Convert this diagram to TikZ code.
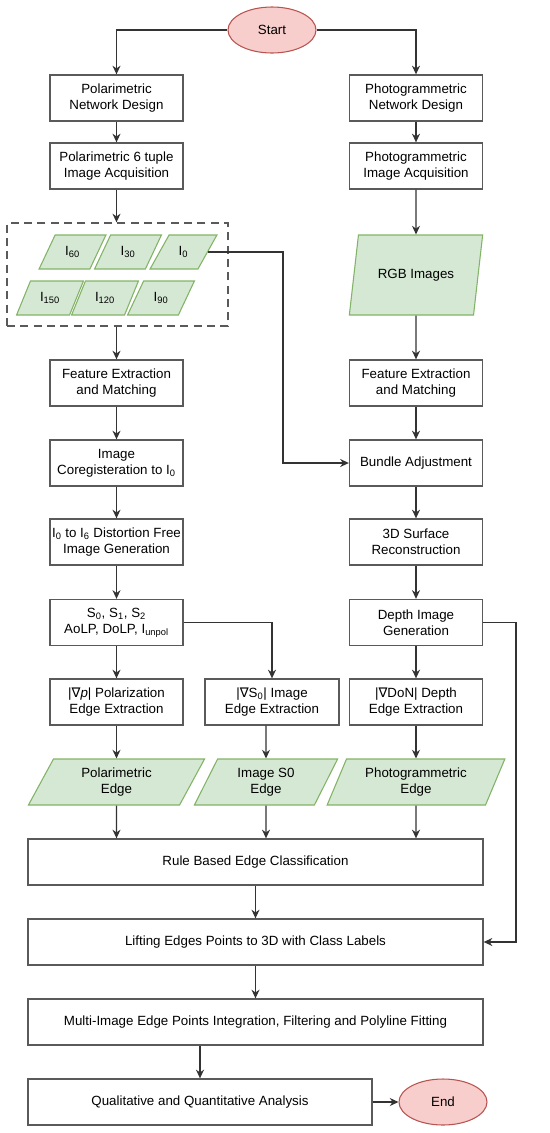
\documentclass[tikz,border=0pt]{standalone}
\usepackage{fontspec}
\setmainfont{Liberation Sans}
\newfontfamily\symfont{DejaVu Sans}
\usetikzlibrary{arrows.meta,positioning,shapes.geometric}
\definecolor{BoxLine}{HTML}{5A5A5A}
\definecolor{DataFill}{HTML}{D5E8D4}
\definecolor{DataLine}{HTML}{82B366}
\definecolor{TermFill}{HTML}{F8CECC}
\definecolor{TermLine}{HTML}{B85450}
\tikzset{>={Stealth[length=6.5pt,width=6pt]},every node/.style={font=\fontsize{10}{12}\selectfont},
 block/.style={draw=BoxLine,line width=1pt,fill=white,minimum width=99.75pt,
 minimum height=34.5pt,inner sep=1pt,align=center},
 data/.style={trapezium,trapezium stretches=true,trapezium left angle=65,
 trapezium right angle=115,draw=DataLine,fill=DataFill,line width=0.8pt,
 minimum height=34.5pt,inner sep=1pt,align=center},
 angle/.style={data,minimum width=50.25pt,minimum height=25.5pt,
 trapezium left angle=60,trapezium right angle=120},
 term/.style={ellipse,draw=TermLine,fill=TermFill,line width=0.8pt,
 minimum width=66pt,minimum height=34.5pt},
 flow/.style={draw=black!80,line width=0.9pt,->}}
\newcommand{\nab}{{\symfont\char"2207}}
\begin{document}
\begin{tikzpicture}[x=0.75pt,y=-0.75pt]
\useasboundingbox (0,0) rectangle (550,1133);
% terminals
\node[term] (start) at (272,30){Start};
\node[term] (end) at (443,1102){End};
% left column
\node[block] (pnd) at (116.5,98){Polarimetric\\Network Design};
\node[block] (pia) at (116.5,166){Polarimetric 6 tuple\\Image Acquisition};
\node[draw=BoxLine,dash pattern=on 6pt off 4pt,line width=1pt,minimum width=165.75pt,minimum height=77.25pt] (grp) at (117.5,274.5){};
\node[angle] (i60) at (72.5,252){I\textsubscript{60}};
\node[angle] (i30) at (128,252){I\textsubscript{30}};
\node[angle] (i0) at (183.5,252){I\textsubscript{0}};
\node[angle] (i150) at (50,298){I\textsubscript{150}};
\node[angle] (i120) at (105,298){I\textsubscript{120}};
\node[angle] (i90) at (161,298){I\textsubscript{90}};
\node[block] (fem) at (116.5,383){Feature Extraction\\and Matching};
\node[block] (icr) at (116.5,463){Image\\Coregisteration to I\textsubscript{0}};
\node[block] (dfg) at (116.5,542){I\textsubscript{0} to I\textsubscript{6} Distortion Free\\Image Generation};
\node[block] (stk) at (116.5,622.5){S\textsubscript{0}, S\textsubscript{1}, S\textsubscript{2}\\AoLP, DoLP, I\textsubscript{unpol}};
\node[block] (pee) at (116.5,702){|\nab\textit{p}| Polarization\\Edge Extraction};
\node[block,minimum width=100.5pt] (iee) at (272,702){|\nab S\textsubscript{0}| Image\\Edge Extraction};
% right column
\node[block] (pnd2) at (416,98){Photogrammetric\\Network Design};
\node[block] (pia2) at (416,166){Photogrammetric\\Image Acquisition};
\node[data,minimum width=100.5pt,minimum height=60pt,trapezium left angle=67,trapezium right angle=113] (rgb) at (416,275){RGB Images};
\node[block] (fem2) at (416,383){Feature Extraction\\and Matching};
\node[block] (bun) at (416,463){Bundle Adjustment};
\node[block] (sur) at (416,542){3D Surface\\Reconstruction};
\node[block] (dig) at (416,622.5){Depth Image\\Generation};
\node[block] (dee) at (416,702){|\nab DoN| Depth\\Edge Extraction};
% edges
\node[data,minimum width=132.75pt] (pe) at (116.5,782){Polarimetric\\Edge};
\node[data,minimum width=108pt] (se) at (266,782){Image S0\\Edge};
\node[data,minimum width=133.5pt] (phe) at (416,782){Photogrammetric\\Edge};
% bottom
\node[block,minimum width=341.25pt] (rule) at (255.5,862){Rule Based Edge Classification};
\node[block,minimum width=341.25pt] (lift) at (255.5,942){Lifting Edges Points to 3D with Class Labels};
\node[block,minimum width=341.25pt] (multi) at (255.5,1022){Multi-Image Edge Points Integration, Filtering and Polyline Fitting};
\node[block,minimum width=258pt] (qual) at (200,1102){Qualitative and Quantitative Analysis};
\coordinate (jog) at (283,0); \coordinate (rail) at (516,0);
\path[flow] (start) -| (pnd); \path[flow] (start) -| (pnd2);
\path[flow] (pnd) -- (pia); \path[flow] (pia.south) -- (pia.south |- grp.north);
\path[flow] (grp.south -| fem) -- (fem); \path[flow] (fem) -- (icr);
\path[flow] (icr) -- (dfg); \path[flow] (dfg) -- (stk);
\path[flow] (stk) -- (pee); \path[flow] (stk) -| (iee);
\path[flow] (i0.east) -- (i0.east -| jog) |- (bun);
\path[flow] (pnd2) -- (pia2); \path[flow] (pia2) -- (rgb); \path[flow] (rgb) -- (fem2);
\path[flow] (fem2) -- (bun); \path[flow] (bun) -- (sur); \path[flow] (sur) -- (dig);
\path[flow] (dig) -- (dee); \path[flow] (dig.east) -- (dig.east -| rail) |- (lift);
\path[flow] (pee) -- (pe); \path[flow] (iee.south -| se) -- (se); \path[flow] (dee) -- (phe);
\path[flow] (pe) -- (pe |- rule.north); \path[flow] (se) -- (se |- rule.north);
\path[flow] (phe) -- (phe |- rule.north);
\path[flow] (rule.south -| lift) -- (lift); \path[flow] (lift) -- (multi);
\path[flow] (multi.south -| qual) -- (qual); \path[flow] (qual) -- (end);
\end{tikzpicture}
\end{document}
